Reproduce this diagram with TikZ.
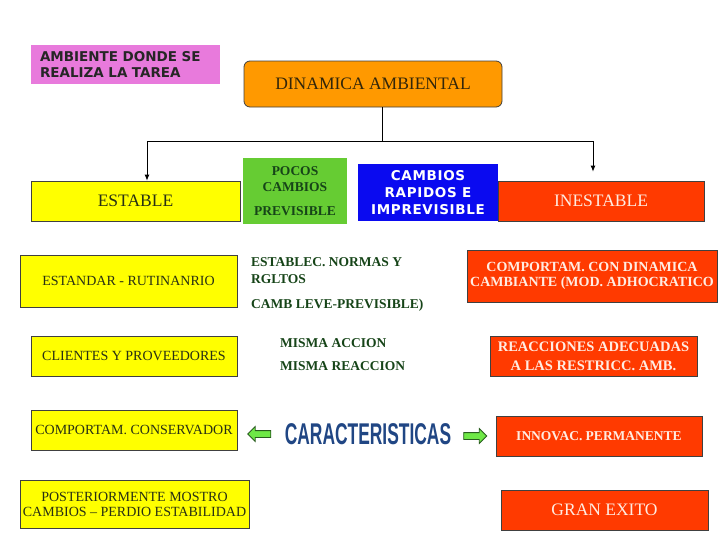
\documentclass[tikz,border=0pt]{standalone}
\usepackage{fontspec}
\setmainfont{Liberation Serif}
\newfontfamily\verdanafont{DejaVu Sans}
\newfontfamily\impactfont{Liberation Sans}
\usepackage{xcolor}
\usetikzlibrary{arrows.meta, positioning, shapes.arrows}

\definecolor{boxyellow}{RGB}{255,255,0}
\definecolor{yellowtext}{RGB}{40,48,20}
\definecolor{boxred}{RGB}{255,58,0}
\definecolor{redtext}{RGB}{255,236,226}
\definecolor{boxorange}{RGB}{255,153,0}
\definecolor{orangetext}{RGB}{50,38,10}
\definecolor{boxpink}{RGB}{232,122,220}
\definecolor{boxgreen}{RGB}{102,204,51}
\definecolor{darkgreentext}{RGB}{22,68,24}
\definecolor{boxblue}{RGB}{10,10,240}
\definecolor{caractblue}{RGB}{32,70,132}
\definecolor{arrowgreen}{RGB}{110,232,70}
\definecolor{arrowedge}{RGB}{40,92,30}

\begin{document}
\begin{tikzpicture}[x=1pt, y=-1pt,
    box/.style={rectangle, draw=black!75, line width=0.8pt, inner sep=1pt,
      align=center, font=\fontsize{14}{15}\selectfont},
    yellowbox/.style={box, fill=boxyellow, text=yellowtext},
    redbox/.style={box, fill=boxred, text=redtext},
    greentext/.style={text=darkgreentext, font=\bfseries\fontsize{13.5}{17}\selectfont,
      align=left, inner sep=0pt, anchor=west},
    arrow/.style={-{Latex[length=6pt, width=5pt]}, line width=0.8pt},
    greenarrow/.style={single arrow, draw=arrowedge, fill=arrowgreen, line width=0.8pt,
      minimum height=23pt, inner sep=3pt, single arrow head extend=4pt}
]
\useasboundingbox (0,0) rectangle (728,546);

% top
\node[rectangle, fill=boxpink, minimum height=39pt, text width=171pt, inner xsep=9pt,
  align=left, font=\verdanafont\bfseries\fontsize{13.5}{16}\selectfont, text=black!85]
  (ambiente) at (125.5,64.5) {AMBIENTE DONDE SE\\REALIZA LA TAREA};
\node[box, rounded corners=6pt, fill=boxorange, text=orangetext, minimum width=258pt,
  minimum height=46pt, font=\fontsize{17.5}{20}\selectfont]
  (dinamica) at (373,84) {DINAMICA AMBIENTAL};

% second row
\node[yellowbox, minimum width=209pt, minimum height=40pt, font=\fontsize{17.5}{20}\selectfont]
  (estable) at (135.5,201) {ESTABLE};
\node[rectangle, fill=boxgreen, text=darkgreentext, minimum width=104pt, minimum height=66pt,
  align=center, inner sep=1pt, font=\bfseries\fontsize{13.5}{16}\selectfont]
  (pocos) at (295,191) {POCOS\\CAMBIOS\\[8pt]PREVISIBLE};
\node[rectangle, fill=boxblue, text=white, minimum width=140pt, minimum height=57pt,
  align=center, inner sep=1pt,
  font=\verdanafont\bfseries\fontsize{13.5}{17}\selectfont\addfontfeature{LetterSpace=5}]
  (rapidos) at (428,192.5) {CAMBIOS\\RAPIDOS E\\IMPREVISIBLE};
\node[redbox, minimum width=206pt, minimum height=40pt, font=\fontsize{17.5}{20}\selectfont]
  (inestable) at (601,201) {INESTABLE};

\coordinate (split) at (382,141);
\draw[arrow] (dinamica.south -| split) -- (split) -| ([xshift=11.5pt]estable.north);
\draw[arrow, shorten >=9pt] (split) -| ([xshift=-8pt]inestable.north);

% left column
\node[yellowbox, minimum width=217pt, minimum height=52pt]
  (estandar) at (128.5,281) {ESTANDAR - RUTINANRIO};
\node[yellowbox, minimum width=206pt, minimum height=40pt]
  (clientes) at (134,356) {CLIENTES Y PROVEEDORES};
\node[yellowbox, minimum width=206pt, minimum height=40pt]
  (conservador) at (134,430) {COMPORTAM. CONSERVADOR};
\node[yellowbox, minimum width=229pt, minimum height=48pt]
  (posterior) at (134.5,504) {POSTERIORMENTE MOSTRO\\CAMBIOS -- PERDIO ESTABILIDAD};

% middle
\node[greentext] (normas) at (251,284)
  {ESTABLEC. NORMAS Y\\RGLTOS\\[8pt]CAMB LEVE-PREVISIBLE)};
\node[greentext, font=\bfseries\fontsize{13.5}{23}\selectfont] (misma) at (280,354.5)
  {MISMA ACCION\\MISMA REACCION};
\node[text=caractblue, font=\impactfont\bfseries\fontsize{30}{30}\selectfont]
  (caract) at (368,434) {\scalebox{0.58}[1]{CARACTERISTICAS}};
\node[greenarrow, shape border rotate=180] (leftarrow) at (261,434) {};
\node[greenarrow] (rightarrow) at (473.5,436) {};

% right column
\node[redbox, font=\bfseries\fontsize{14}{15}\selectfont, minimum width=250pt, minimum height=52pt]
  (dinamicabox) at (592,276) {COMPORTAM. CON DINAMICA\\CAMBIANTE (MOD. ADHOCRATICO};
\node[redbox, font=\bfseries\fontsize{14.5}{19}\selectfont, minimum width=207pt, minimum height=40pt]
  (reacciones) at (593.5,356) {REACCIONES ADECUADAS\\A LAS RESTRICC. AMB.};
\node[redbox, font=\bfseries\fontsize{13.5}{15}\selectfont, minimum width=206pt, minimum height=40pt]
  (innovac) at (599,436) {INNOVAC. PERMANENTE};
\node[redbox, font=\fontsize{17.5}{20}\selectfont, minimum width=207pt, minimum height=40pt]
  (exito) at (604.5,510) {GRAN EXITO};
\end{tikzpicture}
\end{document}
